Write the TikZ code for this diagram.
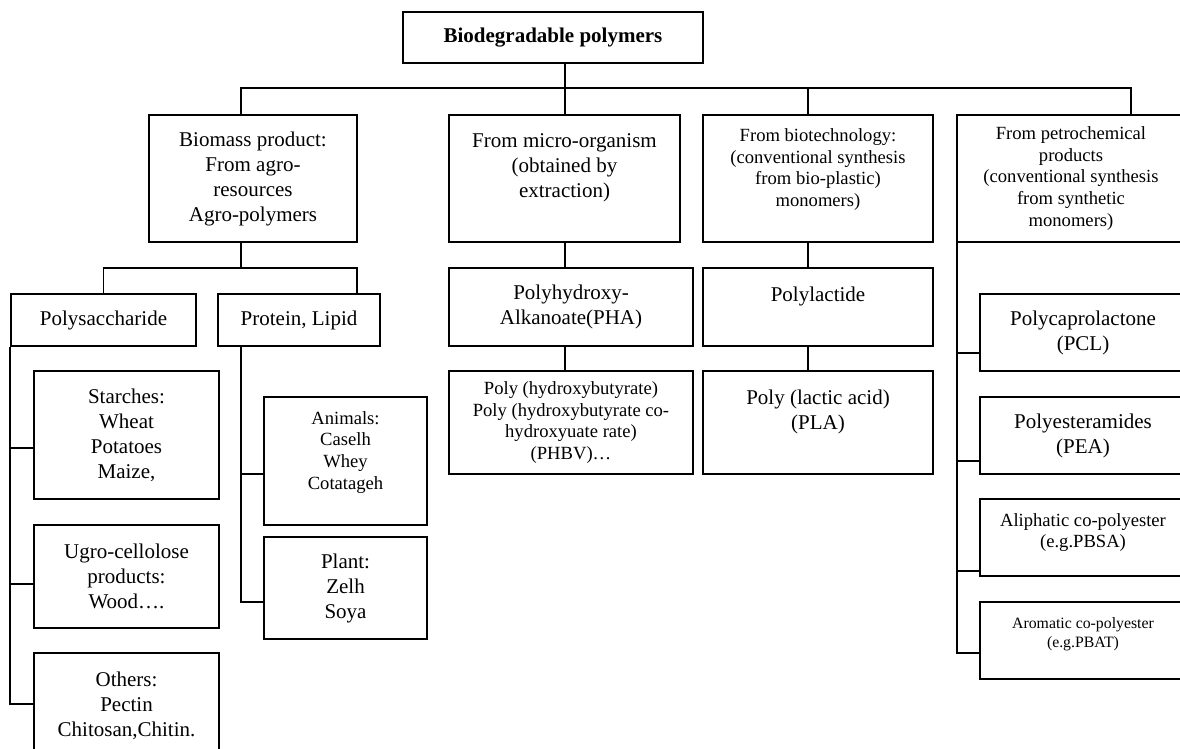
\documentclass[tikz,border=0pt]{standalone}
\usepackage{fontspec}
\setmainfont{Liberation Serif}
\tikzset{
  every picture/.style={line width=1.5bp},
  box/.style={draw, rectangle, align=center, inner sep=2bp},
  dims/.style 2 args={minimum width=#1bp, minimum height=#2bp},
  big/.style={font=\fontsize{21bp}{25bp}\selectfont},
  mid/.style={font=\fontsize{18.6bp}{21.7bp}\selectfont},
  tiny/.style={font=\fontsize{15.8bp}{19bp}\selectfont},
}
\begin{document}
\begin{tikzpicture}[x=1bp, y=-1bp]
  \useasboundingbox (0,0) rectangle (1180,749);
  % root and first level
  \node[box, big, dims={300}{51}] (top) at (553,37.5) {\textbf{Biodegradable polymers}};
  \node[box, big, dims={208}{127}] (bio) at (253,178.5) {Biomass product:\\From agro-\\resources\\Agro-polymers};
  \node[box, big, dims={231}{127}] (micro) at (564.5,178.5) {From micro-organism\\(obtained by\\extraction)\\~};
  \node[box, mid, dims={230}{127}] (biotech) at (818,178.5) {From biotechnology:\\(conventional synthesis\\from bio-plastic)\\monomers)\\~};
  \node[box, mid, dims={228}{127}] (petro) at (1071,178.5) {From petrochemical\\products\\(conventional synthesis\\from synthetic\\monomers)};
  \coordinate (d1) at (241,88);
  \coordinate (d2) at (565,88);
  \coordinate (d3) at (808,88);
  \coordinate (d4) at (1131,88);
  \draw (top.south -| d2) -- (d2 |- micro.north);
  \draw (d1 |- bio.north) -- (d1) -- (d4) -- (d4 |- petro.north);
  \draw (d3) -- (d3 |- biotech.north);
  % agro-polymers branch
  \node[box, big, dims={185}{52}] (polysac) at (103.5,320) {Polysaccharide};
  \node[box, big, dims={162}{52}] (protein) at (299,320) {Protein, Lipid};
  \node[box, big, dims={185}{128}] (starch) at (126.5,435) {Starches:\\Wheat\\Potatoes\\Maize,};
  \node[box, big, dims={185}{103}] (ugro) at (126.5,576.5) {Ugro-cellolose\\products:\\Wood….};
  \node[box, big, dims={185}{128}] (others) at (126.5,717) {Others:\\Pectin\\Chitosan,Chitin.\\~};
  \node[box, mid, dims={163}{128}] (animals) at (345.5,461) {Animals:\\Caselh\\Whey\\Cotatageh\\~};
  \node[box, big, dims={163}{102}] (plant) at (345.5,588) {Plant:\\Zelh\\Soya};
  \coordinate (e1) at (241,268);
  \coordinate (e2) at (357,268);
  \draw (e1 |- bio.south) -- (e1);
  \draw (polysac.north) |- (e2) -- (e2 |- protein.north);
  \foreach \n/\s in {starch/-13, ugro/-7.5, others/13}
    \draw (polysac.south west) |- ([yshift=\s bp]\n.west);
  \foreach \n/\s in {animals/-13, plant/-14}
    \draw ([xshift=-58bp]protein.south) |- ([yshift=\s bp]\n.west);
  % micro-organism and biotechnology branches
  \node[box, big, dims={244}{78}] (pha) at (571,307) {Polyhydroxy-\\Alkanoate(PHA)};
  \node[box, mid, dims={244}{103}] (phb) at (571,422.5) {Poly (hydroxybutyrate)\\Poly (hydroxybutyrate co-\\hydroxyuate rate)\\(PHBV)…};
  \node[box, big, dims={230}{78}] (pll) at (818,307) {Polylactide\\~};
  \node[box, big, dims={230}{103}] (pla) at (818,422.5) {Poly (lactic acid)\\(PLA)\\~};
  \draw (d2 |- micro.south) -- (d2 |- pha.north);
  \draw (d2 |- pha.south) -- (d2 |- phb.north);
  \draw (d3 |- biotech.south) -- (d3 |- pll.north);
  \draw (d3 |- pll.south) -- (d3 |- pla.north);
  % petrochemical branch
  \node[box, big, dims={206}{77}] (pcl) at (1083,332.5) {Polycaprolactone\\(PCL)};
  \node[box, big, dims={206}{77}] (pea) at (1083,435.5) {Polyesteramides\\(PEA)};
  \node[box, mid, dims={206}{77}] (aliph) at (1083,537.5) {Aliphatic co-polyester\\(e.g.PBSA)\\[-8bp]~};
  \node[box, tiny, dims={206}{77}] (arom) at (1083,640.5) {Aromatic co-polyester\\(e.g.PBAT)\\[-3bp]~};
  \coordinate (d5) at (957,242);
  \foreach \n/\s in {pcl/-20.5, pea/-25.5, aliph/-33.5, arom/-12.5}
    \draw (d5) |- ([yshift=\s bp]\n.west);
\end{tikzpicture}
\end{document}
